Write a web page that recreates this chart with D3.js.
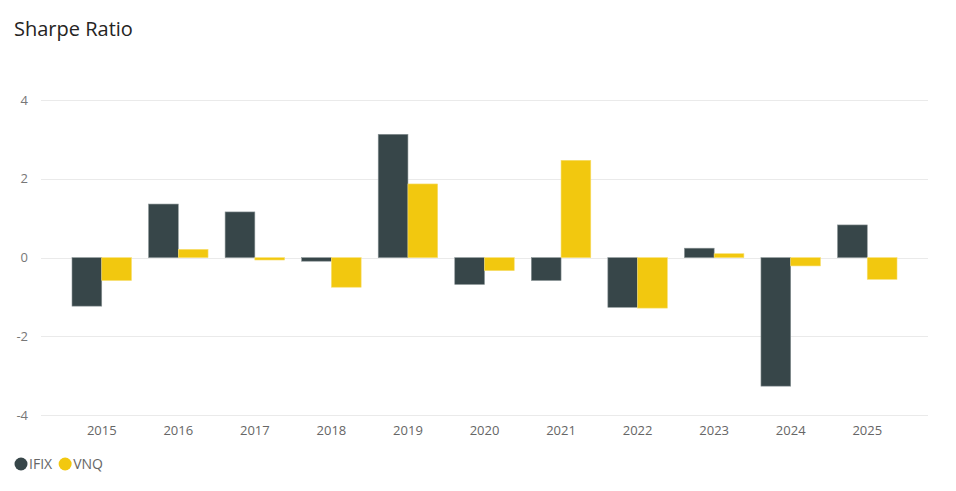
<!DOCTYPE html>
<html><head><meta charset="utf-8">
<script src="https://cdn.jsdelivr.net/npm/d3@7"></script>
<style>body{margin:0;background:#fff}svg{display:block}</style>
</head><body>
<script>
const years = ["2015","2016","2017","2018","2019","2020","2021","2022","2023","2024","2025"];
const ifix = [-1.23, 1.36, 1.16, -0.09, 3.13, -0.68, -0.58, -1.26, 0.24, -3.26, 0.83];
const vnq  = [-0.58, 0.21, -0.06, -0.75, 1.87, -0.33, 2.47, -1.28, 0.10, -0.21, -0.55];
const yTicks = [-4, -2, 0, 2, 4];
const seriesNames = ["IFIX", "VNQ"];
const colors = ["#374649", "#F2C80F"];

const W = 956, H = 491;
const svg = d3.select("body").append("svg").attr("width", W).attr("height", H);
const font = "'Segoe UI', 'Open Sans', 'Noto Sans', sans-serif";

svg.append("text").attr("x", 14).attr("y", 36).text("Sharpe Ratio")
  .attr("font-family", font).attr("font-size", 20).attr("fill", "#252423");

const x = d3.scaleBand().domain(years).range([41, 928]).paddingInner(0.223).paddingOuter(0.405);
const xs = d3.scaleBand().domain(seriesNames).range([0, x.bandwidth()]);
const y = d3.scaleLinear().domain([-4, 4]).range([415.3, 100]);

// gridlines
svg.append("g").selectAll("line").data(yTicks).join("line")
  .attr("x1", 41).attr("x2", 928)
  .attr("y1", d => Math.round(y(d)) + 0.5).attr("y2", d => Math.round(y(d)) + 0.5)
  .attr("stroke", "#eaeaea").attr("stroke-width", 1);

// y labels
svg.append("g").selectAll("text").data(yTicks).join("text")
  .attr("x", 28).attr("y", d => y(d)).attr("dy", "0.35em")
  .attr("text-anchor", "end").text(d => d)
  .attr("font-family", font).attr("font-size", 13).attr("fill", "#777");

// x labels
svg.append("g").selectAll("text").data(years).join("text")
  .attr("x", d => x(d) + x.bandwidth() / 2).attr("y", 430).attr("dy", "0.35em")
  .attr("text-anchor", "middle").text(d => d)
  .attr("font-family", font).attr("font-size", 13).attr("fill", "#666");

const data = [ifix, vnq];
const strokes = ["#8a9496", "#f7de6e"];
seriesNames.forEach((s, i) => {
  svg.append("g").selectAll("rect").data(years).join("rect")
    .attr("x", d => x(d) + xs(s))
    .attr("width", xs.bandwidth())
    .attr("y", (d, j) => Math.min(y(0), y(data[i][j])))
    .attr("height", (d, j) => Math.abs(y(data[i][j]) - y(0)))
    .attr("fill", colors[i])
    .attr("stroke", strokes[i]).attr("stroke-width", 0.6);
});

// legend
const leg = svg.append("g");
let lx = 21;
seriesNames.forEach((s, i) => {
  leg.append("circle").attr("cx", lx).attr("cy", 464).attr("r", 6.5).attr("fill", colors[i]);
  const t = leg.append("text").attr("x", lx + 8).attr("y", 464).attr("dy", "0.35em")
    .text(s).attr("font-family", font).attr("font-size", 14).attr("fill", "#666");
  lx += 8 + t.node().getComputedTextLength() + 13;
});
</script>
</body></html>
